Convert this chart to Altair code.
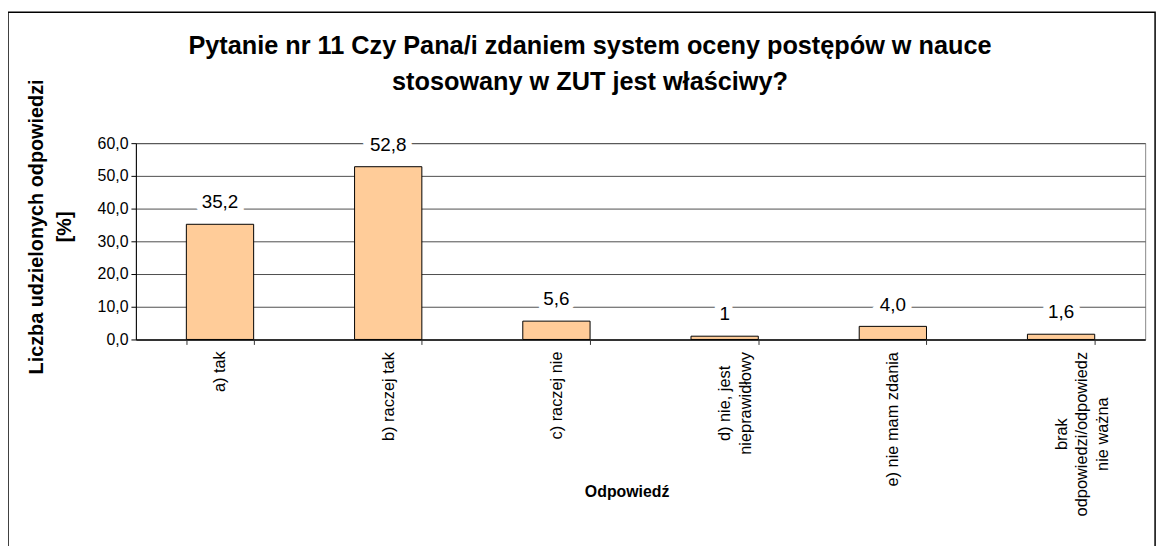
import altair as alt
import pandas as pd

categories = [
    "a) tak",
    "b) raczej tak",
    "c) raczej nie",
    "d) nie, jest\nnieprawidłowy",
    "e) nie mam zdania",
    "brak\nodpowiedzi/odpowiedz\nnie ważna",
]
values = [35.2, 52.8, 5.6, 1.0, 4.0, 1.6]
value_labels = ["35,2", "52,8", "5,6", "1", "4,0", "1,6"]
y_ticks = [0, 10, 20, 30, 40, 50, 60]
title_lines = [
    "Pytanie nr 11 Czy Pana/i zdaniem system oceny postępów w nauce",
    "stosowany w ZUT jest właściwy?",
]
y_title = ["Liczba udzielonych odpowiedzi", "[%]"]
x_title = "Odpowiedź"

FONT = "Liberation Sans"
df = pd.DataFrame({"cat": categories, "val": values, "lbl": value_labels})
one = pd.DataFrame({"k": [0]})

pad_cond = {
    "condition": [
        {"test": "substring(datum.label, 0, 2) == 'a)'", "value": 27},
        {"test": "substring(datum.label, 0, 2) == 'b)'", "value": 52},
        {"test": "substring(datum.label, 0, 2) == 'c)'", "value": 51},
        {"test": "substring(datum.label, 0, 2) == 'd)'", "value": 59},
        {"test": "substring(datum.label, 0, 2) == 'e)'", "value": 75},
    ],
    "value": 90,
}

x_scale = alt.Scale(domain=categories, paddingInner=0.6, paddingOuter=0.3)
y_scale = alt.Scale(domain=[0, 60], nice=False)

x_axis = alt.Axis(
    title=x_title,
    titleFont=FONT,
    titleFontSize=16,
    titleFontWeight="bold",
    titleX=495,
    titleY=153,
    titleAlign="center",
    titleBaseline="middle",
    titleAngle=0,
    labelAngle=270,
    labelAlign="center",
    labelBaseline="middle",
    labelFont=FONT,
    labelFontSize=16.5,
    labelColor="black",
    labelExpr="split(datum.label, '\\n')",
    labelLineHeight=21,
    labelPadding=pad_cond,
    labelLimit=400,
    labelOverlap=False,
    tickBand="extent",
    tickSize=5,
    tickColor="#333333",
    domainColor="#333333",
    domainWidth=2,
    grid=False,
)

y_axis = alt.Axis(
    values=y_ticks,
    labelExpr="replace(format(datum.value, '.1f'), '.', ',')",
    labelFont=FONT,
    labelFontSize=16,
    labelColor="black",
    labelPadding=3,
    labelOverlap=False,
    tickSize=5,
    tickColor="black",
    domainColor="black",
    gridColor="#4d4d4d",
    gridWidth=1,
    title=y_title,
    titleFont=FONT,
    titleFontSize=20,
    titleFontWeight="bold",
    titleLineHeight=28,
    titleAngle=270,
    titleAlign="center",
    titleBaseline="top",
    titleX=-110,
    titleY=84,
)

x_enc = alt.X("cat:N", sort=categories, scale=x_scale, axis=x_axis)
y_enc = alt.Y("val:Q", scale=y_scale, axis=y_axis)

frame = alt.Chart(one).mark_rect(
    fill="white", fillOpacity=0, stroke="black", strokeWidth=1.5
).encode(x=alt.value(-129), x2=alt.value(1028), y=alt.value(-132), y2=alt.value(500))

title = alt.Chart(one).mark_text(
    text=title_lines,
    font=FONT,
    fontSize=25.5,
    fontWeight="bold",
    align="center",
    baseline="alphabetic",
    lineHeight=36,
    color="black",
).encode(x=alt.value(458), y=alt.value(-90))

bars = alt.Chart(df).mark_bar(
    color="#FFCC99", stroke="black", strokeWidth=1
).encode(x=x_enc, y=y_enc)

halo = alt.Chart(df).mark_text(
    font=FONT, fontSize=19, baseline="middle", dy=-22,
    color="white", stroke="white", strokeWidth=13,
).encode(x=x_enc, y=y_enc, text="lbl:N")

labels = alt.Chart(df).mark_text(
    font=FONT, fontSize=19, baseline="middle", dy=-22, color="black",
).encode(x=x_enc, y=y_enc, text="lbl:N")

chart = (
    alt.layer(frame, title, bars, halo, labels)
    .properties(
        width=1018,
        height=198,
        autosize=alt.AutoSizeParams(type="none"),
        padding={"left": 129, "top": 134, "right": 20, "bottom": 206},
        background="white",
    )
    .configure_view(stroke="#888888", strokeWidth=1)
)

chart.save("out.html", embed_options={"renderer": "svg", "actions": False})
